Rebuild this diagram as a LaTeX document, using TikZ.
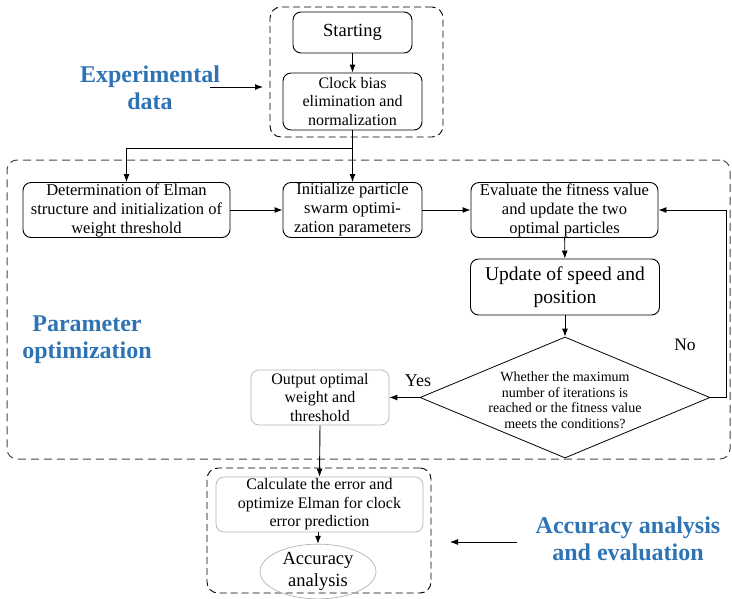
\documentclass[tikz,border=0pt]{standalone}
\usepackage{fontspec}
\setmainfont{Liberation Serif}
\usetikzlibrary{arrows.meta,shapes.geometric}
\definecolor{lblue}{RGB}{46,116,181}
\definecolor{dgray}{RGB}{70,70,70}
\begin{document}
\begin{tikzpicture}[x=1pt,y=-1pt,
  box/.style={draw, rounded corners=8pt, line width=0.9pt, align=center, inner sep=0pt, font=\fontsize{16.5}{19}\selectfont},
  gbox/.style={draw=gray!60, rounded corners=8pt, line width=0.7pt, align=center, inner sep=0pt, font=\fontsize{16}{18.5}\selectfont},
  arr/.style={-{Latex[length=8pt,width=6pt]}, line width=0.9pt},
  lab/.style={text=lblue, font=\bfseries\fontsize{24}{27}\selectfont, align=center},
  dbox/.style={draw, dash pattern=on 7pt off 4pt, rounded corners=11pt, line width=0.9pt, inner sep=0pt},
  gdbox/.style={draw=dgray, dash pattern=on 8pt off 5pt, rounded corners=10pt, line width=1pt, inner sep=0pt}
]
\useasboundingbox (0,0) rectangle (732,598);

% dashed group frames
\node[dbox, minimum width=173, minimum height=130] (topframe) at (356.5,72) {};
\node[gdbox, minimum width=723, minimum height=299] (midframe) at (368.5,309.5) {};
\node[dbox, minimum width=224, minimum height=125] (botframe) at (319,530.5) {};

% boxes
\node[box, minimum width=119, minimum height=41, font=\fontsize{18.5}{21}\selectfont] (start) at (352.5,32.5) {Starting};
\node[box, minimum width=139, minimum height=57, font=\fontsize{16}{18.3}\selectfont] (clock) at (352.5,101.5) {Clock bias\\elimination and\\normalization};
\node[box, minimum width=207, minimum height=55] (det) at (126.5,210) {Determination of Elman\\structure and initialization of\\weight threshold};
\node[box, minimum width=139, minimum height=55] (init) at (352.5,210) {Initialize particle\\swarm optimi-\\zation parameters};
\node[box, minimum width=187, minimum height=55] (eval) at (564.5,210) {Evaluate the fitness value\\and update the two\\optimal particles};
\node[box, minimum width=189, minimum height=56, font=\fontsize{19.5}{23}\selectfont] (upd) at (565,287) {Update of speed and\\position};
\node[diamond, draw, line width=0.8pt, minimum width=290, minimum height=121, inner sep=0pt] (dia) at (565,397.5) {};
\node[align=center, font=\fontsize{14}{15.5}\selectfont] (diatext) at (565,400) {Whether the maximum\\number of iterations is\\reached or the fitness value\\meets the conditions?};
\node[gbox, minimum width=138, minimum height=55] (out) at (320,397.5) {Output optimal\\weight and\\threshold};
\node[gbox, minimum width=207, minimum height=55] (calc) at (319.5,504.5) {Calculate the error and\\optimize Elman for clock\\error prediction};
\node[ellipse, draw=gray!60, line width=0.7pt, minimum width=116, minimum height=43, inner sep=0pt, align=center, font=\fontsize{18.5}{22.5}\selectfont] (acc) at (318,571.5) {Accuracy\\analysis};

% labels
\node[lab] (explab) at (150,87.5) {Experimental\\data};
\node[lab] (parlab) at (87,339.5) {Parameter\\optimization};
\node[lab] (acclab) at (628,538.5) {Accuracy analysis\\and evaluation};
\node[font=\fontsize{18}{20}\selectfont] (yes) at (418,381) {Yes};
\node[font=\fontsize{17.5}{20}\selectfont] (no) at (685,345) {No};

% coordinates
\coordinate (split) at (352.5,148);
\coordinate (e1) at (210,87);
\coordinate (e2) at (263,87);
\coordinate (a1) at (517,542);
\coordinate (a2) at (450,542);
\coordinate (fb) at (726,397.5);

% connectors
\draw[arr] (start) -- (clock);
\draw[arr] (clock.south) -- (init.north);
\draw[arr] (split) -| (det.north);
\draw[arr] (det) -- (init);
\draw[arr] (init) -- (eval);
\draw[arr] (eval) -- (upd);
\draw[arr] (upd.south) -- (dia.north);
\draw[arr] (dia.east) -- (fb) |- (eval.east);
\draw[arr] (dia.west) -- (out.east);
\draw[arr] (out.south) -- (calc.north);
\draw[arr] (acc.north |- calc.south) -- (acc.north);
\draw[arr] (e1) -- (e2);
\draw[arr] (a1) -- (a2);
\end{tikzpicture}
\end{document}
